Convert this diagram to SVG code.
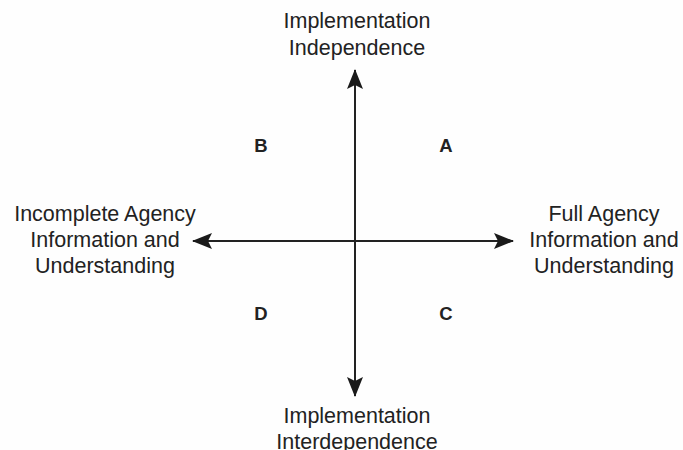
<svg xmlns="http://www.w3.org/2000/svg" width="683" height="450" viewBox="0 0 683 450">
<style>
.t{font-family:"Liberation Sans",Arial,sans-serif;font-size:21.5px;fill:#222;text-anchor:middle}
.q{font-family:"Liberation Sans",Arial,sans-serif;font-size:18.5px;font-weight:bold;fill:#222;text-anchor:middle}
.ax{stroke:#222;stroke-width:2;fill:none}
</style>
<defs>
<marker id="ah" viewBox="0 0 20 16" refX="19" refY="8" markerWidth="20" markerHeight="16" markerUnits="userSpaceOnUse" orient="auto">
<path d="M0,0 L20,8 L0,16 L4,8 Z" fill="#1a1a1a"/>
</marker>
</defs>
<rect width="683" height="450" fill="#fefefe"/>
<g id="connectors">
<line class="ax" x1="355" y1="241" x2="355" y2="70" marker-end="url(#ah)"/>
<line class="ax" x1="355" y1="241" x2="355" y2="396" marker-end="url(#ah)"/>
<line class="ax" x1="355" y1="241" x2="193" y2="241" marker-end="url(#ah)"/>
<line class="ax" x1="355" y1="241" x2="513" y2="241" marker-end="url(#ah)"/>
</g>
<g id="top"><text class="t" x="357" y="28">Implementation</text><text class="t" x="357" y="55">Independence</text></g>
<g id="bottom"><text class="t" x="357" y="423">Implementation</text><text class="t" x="357" y="449">Interdependence</text></g>
<g id="left"><text class="t" x="105" y="221">Incomplete Agency</text><text class="t" x="105" y="247">Information and</text><text class="t" x="105" y="273">Understanding</text></g>
<g id="right"><text class="t" x="604" y="221">Full Agency</text><text class="t" x="604" y="247">Information and</text><text class="t" x="604" y="273">Understanding</text></g>
<g id="qA"><text class="q" x="446" y="152">A</text></g>
<g id="qB"><text class="q" x="261" y="152">B</text></g>
<g id="qC"><text class="q" x="446" y="320">C</text></g>
<g id="qD"><text class="q" x="261" y="320">D</text></g>
</svg>
